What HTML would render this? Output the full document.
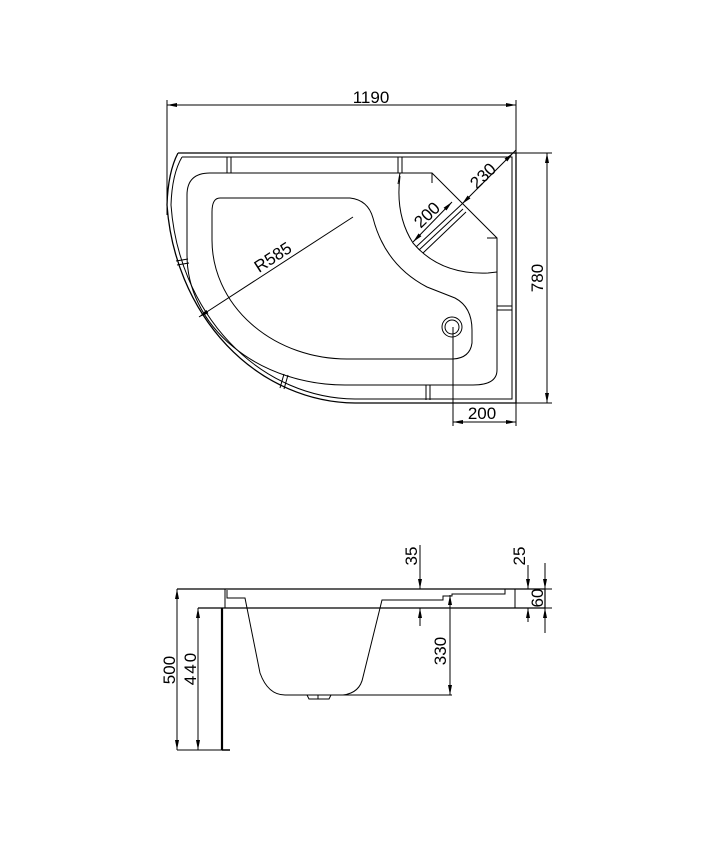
<!DOCTYPE html>
<html><head><meta charset="utf-8"><style>
html,body{margin:0;padding:0;background:#fff;}
svg{display:block;}
text{font-family:"Liberation Sans",sans-serif;font-size:17px;fill:#000;}
</style></head><body>
<svg width="709" height="850" viewBox="0 0 709 850" xmlns="http://www.w3.org/2000/svg">
<defs>
<marker id="a" viewBox="0 0 10 4" refX="10" refY="2" markerWidth="10" markerHeight="4" markerUnits="userSpaceOnUse" orient="auto-start-reverse"><path d="M0,0 L10,2 L0,4z" fill="#000"/></marker>
</defs>
<g fill="none" stroke="#000" stroke-width="1">
<line x1="167" y1="105" x2="516" y2="105" marker-start="url(#a)" marker-end="url(#a)"/>
<line x1="167" y1="100" x2="167" y2="215"/>
<line x1="516" y1="100" x2="516" y2="153"/>
<path d="M178,153 L516,153 L516,403 L355,403 A190,215 0 0 1 167,205 Q168,172 178,153" stroke-width="1.3"/>
<path d="M182,157 L512,157 L512,399 L355,399 A186,211 0 0 1 171,205 Q172,174 182,157"/>
<path d="M210,173 L432,173 L497,238 L497,370 Q497,385 473,385 L345,385 A158,130 0 0 1 187,255 L187,195 Q187,173 210,173"/>
<path d="M400,176 Q395,215 413,243 Q440,275 488,273 L497,272"/>
<line x1="400" y1="173" x2="398" y2="184"/>
<line x1="432" y1="173" x2="432" y2="183"/>
<line x1="487" y1="238" x2="497" y2="238"/>
<path d="M220,198 L350,198 Q368,200 373,218 Q385,265 427,287 L455,298 Q472,307 472,330 L472,343 Q470,358 453,359 L347,359 A135,119 0 0 1 212,240 L212,212 Q212,198 220,198"/>
<circle cx="452" cy="327" r="10"/>
<circle cx="452" cy="327" r="7"/>
<line x1="453" y1="327" x2="453" y2="426"/>
<line x1="516" y1="403" x2="516" y2="426"/>
<line x1="453" y1="422" x2="516" y2="422" marker-start="url(#a)" marker-end="url(#a)"/>
<line x1="516" y1="153" x2="552" y2="153"/>
<line x1="516" y1="403" x2="552" y2="403"/>
<line x1="547" y1="153" x2="547" y2="403" marker-start="url(#a)" marker-end="url(#a)"/>
<line x1="353" y1="217" x2="199" y2="317" marker-end="url(#a)"/>
<line x1="513" y1="153" x2="462" y2="204" marker-start="url(#a)" marker-end="url(#a)"/>
<line x1="452" y1="202" x2="413" y2="242" marker-start="url(#a)" marker-end="url(#a)"/>
<line x1="462" y1="204" x2="416" y2="247"/>
<line x1="463" y1="209" x2="419" y2="250"/>
<line x1="466" y1="212" x2="423" y2="253"/>
<line x1="513" y1="153" x2="516" y2="150"/>
<path d="M227,157 L227,173 M231,157 L231,173"/>
<path d="M398,157 L398,173 M402,157 L402,173"/>
<path d="M497,306 L512,306 M497,310 L512,310"/>
<path d="M426,385 L426,400 M430,385 L430,400"/>
<path d="M176,261 L188,259 M177,265 L189,263"/>
<path d="M284,374 L280,388 M288,375 L284,389"/>

<path d="M177,589 L545,589 L545,608 L198,608" stroke-width="1.2"/>
<line x1="515" y1="589" x2="515" y2="608"/>
<line x1="225" y1="589" x2="225" y2="608"/>
<path d="M227,590 L227,598 L245,598 L260,673 Q268,695 285,695 L343,695 Q360,693 363,677 L382,600 L443,600 L443,596 L452,596 L452,594 L505,594 L505,589"/>
<path d="M307,695 L309,699 L329,699 L331,695 M318,695 L318,699"/>
<line x1="222" y1="608" x2="222" y2="750" stroke-width="2.2"/>
<line x1="222" y1="750" x2="230" y2="750" stroke-width="1.5"/>
<line x1="177" y1="750" x2="222" y2="750"/>
<line x1="177" y1="589" x2="177" y2="750" marker-start="url(#a)" marker-end="url(#a)"/>
<line x1="198" y1="608" x2="198" y2="750" marker-start="url(#a)" marker-end="url(#a)"/>
<line x1="343" y1="695" x2="452" y2="695"/>
<line x1="450" y1="595" x2="450" y2="695" marker-start="url(#a)" marker-end="url(#a)"/>
<line x1="420" y1="545" x2="420" y2="589" marker-end="url(#a)"/>
<line x1="420" y1="626" x2="420" y2="608" marker-end="url(#a)"/>
<line x1="528" y1="565" x2="528" y2="589" marker-end="url(#a)"/>
<line x1="528" y1="622" x2="528" y2="608" marker-end="url(#a)"/>
<line x1="545" y1="563" x2="545" y2="589" marker-end="url(#a)"/>
<line x1="545" y1="633" x2="545" y2="608" marker-end="url(#a)"/>
<line x1="530" y1="589" x2="552" y2="589"/>
<line x1="530" y1="608" x2="552" y2="608"/>
</g>
<text x="371" y="103" text-anchor="middle">1190</text>
<text transform="translate(543,278) rotate(-90)" text-anchor="middle">780</text>
<text x="482" y="419" text-anchor="middle">200</text>
<text transform="translate(276,262) rotate(-33)" text-anchor="middle">R585</text>
<text transform="translate(487,180) rotate(-44)" text-anchor="middle">230</text>
<text transform="translate(431,219) rotate(-44)" text-anchor="middle">200</text>
<text transform="translate(175,670) rotate(-90)" text-anchor="middle">500</text>
<text transform="translate(196,668) rotate(-90)" text-anchor="middle" letter-spacing="2">440</text>
<text transform="translate(446,651) rotate(-90)" text-anchor="middle">330</text>
<text transform="translate(417,556) rotate(-90)" text-anchor="middle">35</text>
<text transform="translate(525,556) rotate(-90)" text-anchor="middle">25</text>
<text transform="translate(543,598) rotate(-90)" text-anchor="middle">60</text>
</svg>
</body></html>
